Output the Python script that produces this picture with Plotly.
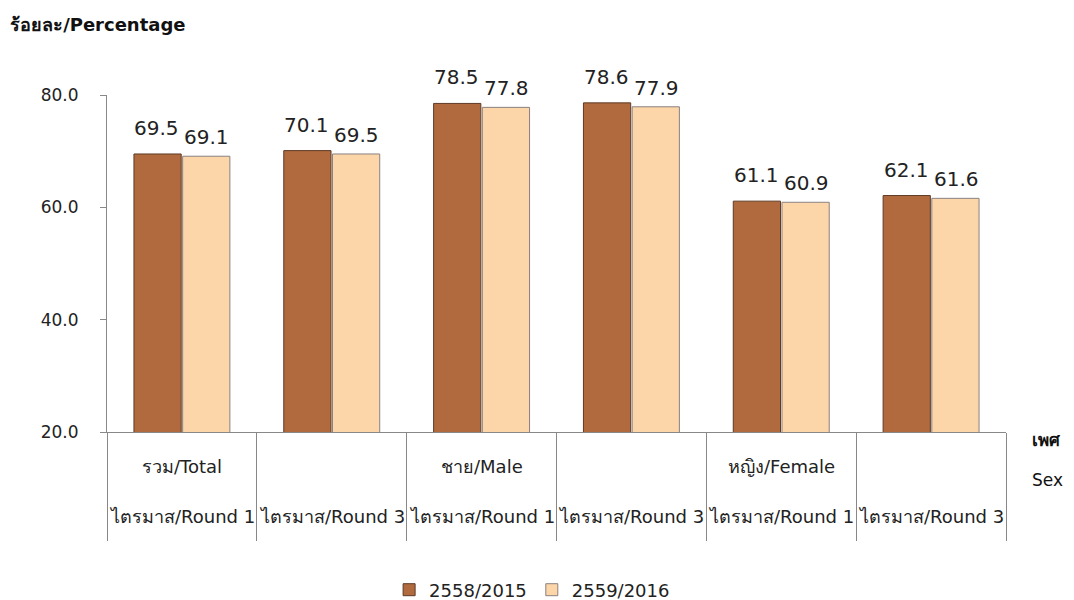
import plotly.graph_objects as go

categories = ["Total-R1", "Total-R3", "Male-R1", "Male-R3", "Female-R1", "Female-R3"]
sex_labels = ["รวม/Total", "", "ชาย/Male", "", "หญิง/Female", ""]
round_labels = ["ไตรมาส/Round 1", "ไตรมาส/Round 3", "ไตรมาส/Round 1",
                "ไตรมาส/Round 3", "ไตรมาส/Round 1", "ไตรมาส/Round 3"]
series_names = ["2558/2015", "2559/2016"]
values_2015 = [69.5, 70.1, 78.5, 78.6, 61.1, 62.1]
values_2016 = [69.1, 69.5, 77.8, 77.9, 60.9, 61.6]
y_ticks = [20, 40, 60, 80]

FONT = "DejaVu Sans, Noto Sans, sans-serif"

fig = go.Figure()
fig.add_trace(go.Bar(
    x=categories, y=values_2015, name=series_names[0],
    marker=dict(color="#B06A3E", line=dict(color="#5E3A26", width=1)),
))
fig.add_trace(go.Bar(
    x=categories, y=values_2016, name=series_names[1],
    marker=dict(color="#FCD6A8", line=dict(color="#8A8080", width=1)),
))

annotations = []
# value labels, centred over each bar of the group
for series, xs, ys in ((values_2015, -25, 26), (values_2016, 25, 19)):
    for c, v in zip(categories, series):
        annotations.append(dict(x=c, xref="x", y=v, yref="y", text=f"{v:.1f}",
                                showarrow=False, xshift=xs, yshift=ys,
                                yanchor="middle", xanchor="center",
                                font=dict(size=20, color="#222222")))
for c, s, r in zip(categories, sex_labels, round_labels):
    if s:
        annotations.append(dict(x=c, xref="x", y=-0.101, yref="paper", text=s,
                                showarrow=False, font=dict(size=18, color="#222222"),
                                yanchor="middle"))
    annotations.append(dict(x=c, xref="x", y=-0.252, yref="paper", text=r,
                            showarrow=False, font=dict(size=18, color="#222222"),
                            yanchor="middle"))
annotations.append(dict(x=1.027, xref="paper", y=-0.024, yref="paper", text="<b>เพศ</b>",
                        showarrow=False, xanchor="left", yanchor="middle",
                        font=dict(size=17, color="#111111")))
annotations.append(dict(x=1.027, xref="paper", y=-0.142, yref="paper", text="Sex",
                        showarrow=False, xanchor="left", yanchor="middle",
                        font=dict(size=17, color="#111111")))

fig.update_layout(
    width=1074, height=600,
    margin=dict(l=99, r=76, t=87, b=176),
    paper_bgcolor="white", plot_bgcolor="white",
    font=dict(family=FONT, color="#222222"),
    barmode="group", bargap=0.35, bargroupgap=0.03,
    title=dict(text="<b>ร้อยละ/Percentage</b>", x=0.002, xanchor="left",
               y=0.972, yanchor="middle", font=dict(size=18, color="#111111")),
    legend=dict(orientation="h", x=0.488, xanchor="center", xref="container",
                y=0.03, yanchor="middle", yref="container",
                font=dict(size=18, color="#222222"), traceorder="normal"),
    annotations=annotations,
    showlegend=True,
)
fig.update_xaxes(
    type="category", showticklabels=False, showline=True, linecolor="#888888",
    linewidth=1, ticks="outside", tickson="boundaries", ticklen=108,
    tickcolor="#888888", showgrid=False, range=[-0.5, 5.5],
)
fig.update_yaxes(
    range=[20, 80], tickvals=y_ticks, tickformat=".1f", showline=True,
    linecolor="#888888", linewidth=1, ticks="outside", ticklen=6,
    tickcolor="#888888", showgrid=False, zeroline=False, ticklabelstandoff=18,
    tickfont=dict(size=17, color="#222222"),
)

fig.write_html("out.html")
